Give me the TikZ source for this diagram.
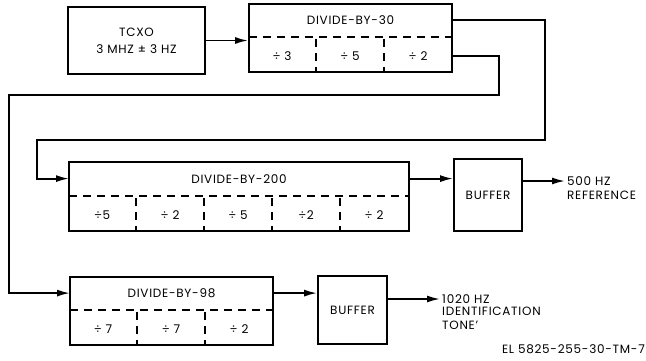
\documentclass[tikz,border=0pt]{standalone}
\usepackage{fontspec}
\setmainfont[LetterSpace=6]{Poppins}
\usetikzlibrary{shapes,arrows.meta,positioning,calc}

\begin{document}
\begin{tikzpicture}[x=1pt, y=-1pt, every node/.style={align=center, font=\fontsize{12}{14}\selectfont}]
        % styles
        \tikzstyle{block} = [rectangle, draw=black, line width=1.8pt, inner sep=0pt]
        \tikzstyle{part} = [rectangle, inner sep=0pt, outer sep=0pt, minimum width=68pt, minimum height=34pt]
        \tikzstyle{divline} = [line width=1.6pt, dash pattern=on 8pt off 6pt]
        \tikzstyle{arrow} = [line width=1.8pt, -{Latex[length=13pt,width=7pt]}]
        \tikzstyle{outtext} = [anchor=west, inner sep=0pt, align=left]

        \useasboundingbox (0,0) rectangle (646,360);

        % oscillator and first divider
        \node (tcxo) [block, minimum width=137pt, minimum height=67pt] at (136.5,40.5) {TCXO\\[3pt]3 MHZ ± 3 HZ};
        \node (db30) [block, minimum width=203pt, minimum height=68pt] at (350.5,38) {};
        \node (db30t) [part, minimum width=203pt, anchor=north] at (db30.north) {DIVIDE-BY-30};
        \node (db30a) [part, anchor=south west] at (db30.south west) {÷ 3};
        \node (db30b) [part, right=0pt of db30a] {÷ 5};
        \node (db30c) [part, right=0pt of db30b] {÷ 2};

        % second divider and buffer
        \node (db200) [block, minimum width=340pt, minimum height=69pt] at (239,196.5) {};
        \node (db200t) [part, minimum width=340pt, minimum height=35pt, anchor=north] at (db200.north) {DIVIDE-BY-200};
        \node (db200a) [part, anchor=south west] at (db200.south west) {÷5};
        \node (db200b) [part, right=0pt of db200a] {÷ 2};
        \node (db200c) [part, right=0pt of db200b] {÷ 5};
        \node (db200d) [part, right=0pt of db200c] {÷2};
        \node (db200e) [part, right=0pt of db200d] {÷ 2};
        \node (buf1) [block, minimum width=68pt, minimum height=72pt] at (488,195) {BUFFER};
        \node (ref1) [outtext] at (567,181) {500 HZ};
        \node (ref2) [outtext, below=5pt of ref1.south west, anchor=north west] {REFERENCE};

        % third divider and buffer
        \node (db98) [block, minimum width=203pt, minimum height=68pt] at (171.5,311) {};
        \node (db98t) [part, minimum width=203pt, anchor=north] at (db98.north) {DIVIDE-BY-98};
        \node (db98a) [part, anchor=south west] at (db98.south west) {÷ 7};
        \node (db98b) [part, right=0pt of db98a] {÷ 7};
        \node (db98c) [part, right=0pt of db98b] {÷ 2};
        \node (buf2) [block, minimum width=69pt, minimum height=68pt] at (352.5,310) {BUFFER};
        \node (tone1) [outtext] at (442,299) {1020 HZ};
        \node (tone2) [outtext, below=3pt of tone1.south west, anchor=north west] {IDENTIFICATION\\TONE'};

        \node (fig) [anchor=east, inner sep=0pt] at (645,349) {EL 5825-255-30-TM-7};

        % dashed separations
        \draw [divline] (db30t.south west) -- (db30t.south east);
        \draw [divline] (db30a.north east) -- (db30a.south east);
        \draw [divline] (db30b.north east) -- (db30b.south east);
        \draw [divline] (db200t.south west) -- (db200t.south east);
        \draw [divline] (db200a.north east) -- (db200a.south east);
        \draw [divline] (db200b.north east) -- (db200b.south east);
        \draw [divline] (db200c.north east) -- (db200c.south east);
        \draw [divline] (db200d.north east) -- (db200d.south east);
        \draw [divline] (db98t.south west) -- (db98t.south east);
        \draw [divline] (db98a.north east) -- (db98a.south east);
        \draw [divline] (db98b.north east) -- (db98b.south east);

        % bends of the feed lines
        \coordinate (turnA) at (545,140);
        \coordinate (turnB) at (37,140);
        \coordinate (turnC) at (499,95);
        \coordinate (turnD) at (9,95);

        % connections
        \draw [arrow] (tcxo.east) -- (tcxo.east -| db30.west);
        \draw [arrow] (db30t.east) -| (turnA) -- (turnB) |- (db200t.west);
        \draw [arrow] (db30c.east) -| (turnC) -- (turnD) |- (db98t.west);
        \draw [arrow] (db200t.east) -- (db200t.east -| buf1.west);
        \draw [arrow, shorten >=2pt] (ref1 -| buf1.east) -- (ref1.west);
        \draw [arrow] (db98t.east) -- (db98t.east -| buf2.west);
        \draw [arrow, shorten >=2pt] (tone1 -| buf2.east) -- (tone1.west);
    \end{tikzpicture}
\end{document}
